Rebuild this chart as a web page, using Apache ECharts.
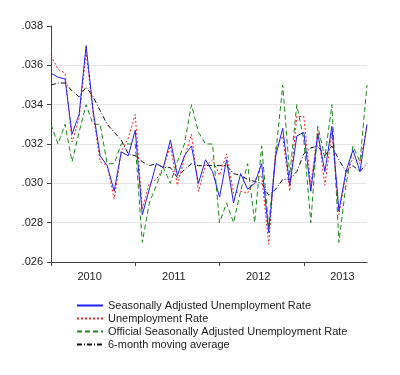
<!DOCTYPE html>
<html>
<head>
<meta charset="utf-8">
<script src="https://cdn.jsdelivr.net/npm/echarts@6/dist/echarts.min.js"></script>
<style>
  html, body { margin: 0; padding: 0; background: #fff; }
  #chart { width: 400px; height: 375px; }
</style>
</head>
<body>
<div id="chart"></div>
<script>
// monthly observations, Jan 2010 .. Oct 2013
const months = [
  '2010-01','2010-02','2010-03','2010-04','2010-05','2010-06','2010-07','2010-08','2010-09','2010-10','2010-11','2010-12',
  '2011-01','2011-02','2011-03','2011-04','2011-05','2011-06','2011-07','2011-08','2011-09','2011-10','2011-11','2011-12',
  '2012-01','2012-02','2012-03','2012-04','2012-05','2012-06','2012-07','2012-08','2012-09','2012-10','2012-11','2012-12',
  '2013-01','2013-02','2013-03','2013-04','2013-05','2013-06','2013-07','2013-08','2013-09','2013-10'
]
const years = ['2010', '2011', '2012', '2013']
const yTicks = [0.026, 0.028, 0.030, 0.032, 0.034, 0.036, 0.038]

const seasAdj = [
  .0356, .0354, .0353, .0325, .0335, .0370, .0337, .0314, .0309, .0296, .0316, .0314,
  .0327, .0284, .0297, .0310, .0308, .0322, .0304, .0314, .0319, .0300, .0312, .0306,
  .0293, .0312, .0290, .0305, .0297, .0300, .0310, .0275, .0314, .0328, .0299, .0324,
  .0326, .0296, .0325, .0306, .0329, .0286, .0306, .0317, .0306, .0330
]
const unemp = [
  .0365, .0358, .0356, .0321, .0333, .0367, .0335, .0311, .0309, .0292, .0316, .0323,
  .0335, .0287, .0300, .0302, .0308, .0319, .0299, .0313, .0325, .0296, .0309, .0312,
  .0304, .0315, .0295, .0296, .0295, .0302, .0304, .0269, .0318, .0324, .0296, .0334,
  .0334, .0299, .0327, .0299, .0326, .0284, .0304, .0313, .0310, .0329
]
const official = [
  .0330, .0320, .0330, .0311, .0326, .0340, .0330, .0330, .0310, .0310, .0320, .0320,
  .0320, .0270, .0290, .0299, .0308, .0300, .0311, .0320, .0340, .0326, .0320, .0320,
  .0280, .0290, .0280, .0296, .0310, .0280, .0319, .0278, .0315, .0350, .0304, .0340,
  .0322, .0280, .0329, .0313, .0340, .0270, .0299, .0319, .0311, .0350
]
const movAvg = [
  .0350, .0351, .0351, .0347, .0344, .0349, .0344, .0337, .0330, .0326, .0322, .0315,
  .0314, .0311, .0309, .0310, .0308, .0308, .0303, .0307, .0310, .0309, .0309, .0309,
  .0309, .0309, .0305, .0304, .0302, .0301, .0300, .0294, .0297, .0302, .0302, .0306,
  .0315, .0318, .0319, .0314, .0319, .0312, .0306, .0309, .0306, .0310
]

const toPoints = arr => arr.map((v, i) => [i, v])

// legend order; z sets drawing order
const lines = [
  { name: 'Seasonally Adjusted Unemployment Rate', data: seasAdj, color: '#2020ff', type: 'solid', z: 4 },
  { name: 'Unemployment Rate', data: unemp, color: '#ff2020', type: [2, 2], z: 3 },
  { name: 'Official Seasonally Adjusted Unemployment Rate', data: official, color: '#1a8a1a', type: [5, 3], z: 1 },
  { name: '6-month moving average', data: movAvg, color: '#111111', type: [5, 2, 1, 2], z: 2 }
]

const chart = echarts.init(document.getElementById('chart'), null, { renderer: 'canvas' })

chart.setOption({
  animation: false,
  textStyle: { fontFamily: 'Liberation Sans, Arial, sans-serif' },
  grid: { left: 51, right: 33, top: 26, bottom: 113 },
  xAxis: {
    type: 'value',
    min: 0,
    max: months.length - 1,
    axisLine: { show: true, lineStyle: { color: '#444', width: 1 } },
    axisTick: { show: true, length: 4, lineStyle: { color: '#444' }, customValues: [0, 12, 24, 36] },
    axisLabel: {
      customValues: [5.5, 17.5, 29.5, 41.5],
      formatter: v => years[Math.floor(v / 12)],
      fontSize: 11,
      color: '#222',
      margin: 9
    },
    splitLine: { show: false }
  },
  yAxis: {
    type: 'value',
    min: yTicks[0],
    max: yTicks[yTicks.length - 1],
    interval: 0.002,
    axisLine: { show: true, lineStyle: { color: '#444', width: 1 } },
    axisTick: { show: true, length: 4, lineStyle: { color: '#444' } },
    axisLabel: {
      formatter: v => v.toFixed(3).replace(/^0/, ''),
      fontSize: 11,
      color: '#222',
      margin: 8
    },
    splitLine: { show: true, showMinLine: false, showMaxLine: false, lineStyle: { color: '#e6e6e6', width: 1 } }
  },
  legend: {
    orient: 'vertical',
    left: 71,
    top: 295,
    itemWidth: 26,
    itemHeight: 8,
    itemGap: 2,
    itemStyle: { opacity: 0 },
    textStyle: { fontSize: 11, color: '#222' },
    data: lines.map(l => l.name)
  },
  series: lines.map(l => ({
    name: l.name,
    type: 'line',
    z: l.z,
    data: toPoints(l.data),
    symbol: 'none',
    lineStyle: { color: l.color, width: 1, type: l.type },
    itemStyle: { color: l.color },
    emphasis: { disabled: true }
  }))
})

window.addEventListener('resize', () => chart.resize())
</script>
</body>
</html>
